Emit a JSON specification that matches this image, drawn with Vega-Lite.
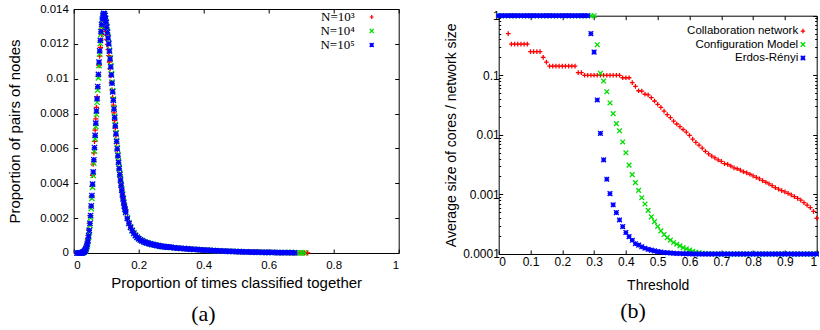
{
 "$schema": "https://vega.github.io/schema/vega-lite/v6.json",
 "padding": {"left": 6.7, "top": 2, "right": -3, "bottom": 0},
 "spacing": 44,
 "resolve": {"scale": {"color": "independent", "shape": "independent"}, "legend": {"color": "independent", "shape": "independent"}},
 "config": {
  "view": {"stroke": "#000", "strokeWidth": 1},
  "axis": {"labelFont": "Liberation Sans", "titleFont": "Liberation Sans", "titleFontWeight": "normal", "labelColor": "#000", "titleColor": "#000", "tickColor": "#000", "domainColor": "#000", "domainWidth": 1, "domain": false, "grid": false, "tickSize": -4, "tickWidth": 1}
 },
 "datasets": {
  "a": [
   {"x":0.010,"N=10³":0,"N=10⁴":0,"N=10⁵":0},
   {"x":0.014,"N=10³":0,"N=10⁴":0,"N=10⁵":0},
   {"x":0.018,"N=10³":0.01e-3,"N=10⁴":0,"N=10⁵":0},
   {"x":0.020,"N=10³":0.02e-3,"N=10⁴":0,"N=10⁵":0},
   {"x":0.022,"N=10³":0.03e-3,"N=10⁴":0,"N=10⁵":0},
   {"x":0.024,"N=10³":0.04e-3,"N=10⁴":0.01e-3,"N=10⁵":0.01e-3},
   {"x":0.026,"N=10³":0.06e-3,"N=10⁴":0.01e-3,"N=10⁵":0.02e-3},
   {"x":0.028,"N=10³":0.08e-3,"N=10⁴":0.02e-3,"N=10⁵":0.03e-3},
   {"x":0.030,"N=10³":0.11e-3,"N=10⁴":0.04e-3,"N=10⁵":0.05e-3},
   {"x":0.032,"N=10³":0.15e-3,"N=10⁴":0.06e-3,"N=10⁵":0.08e-3},
   {"x":0.034,"N=10³":0.21e-3,"N=10⁴":0.10e-3,"N=10⁵":0.12e-3},
   {"x":0.036,"N=10³":0.29e-3,"N=10⁴":0.15e-3,"N=10⁵":0.18e-3},
   {"x":0.038,"N=10³":0.40e-3,"N=10⁴":0.22e-3,"N=10⁵":0.26e-3},
   {"x":0.040,"N=10³":0.55e-3,"N=10⁴":0.32e-3,"N=10⁵":0.37e-3},
   {"x":0.042,"N=10³":0.75e-3,"N=10⁴":0.46e-3,"N=10⁵":0.52e-3},
   {"x":0.044,"N=10³":1.00e-3,"N=10⁴":0.65e-3,"N=10⁵":0.72e-3},
   {"x":0.046,"N=10³":1.32e-3,"N=10⁴":0.90e-3,"N=10⁵":0.98e-3},
   {"x":0.048,"N=10³":1.70e-3,"N=10⁴":1.20e-3,"N=10⁵":1.30e-3},
   {"x":0.050,"N=10³":2.15e-3,"N=10⁴":1.58e-3,"N=10⁵":1.70e-3},
   {"x":0.052,"N=10³":2.65e-3,"N=10⁴":2.02e-3,"N=10⁵":2.15e-3},
   {"x":0.054,"N=10³":3.22e-3,"N=10⁴":2.55e-3,"N=10⁵":2.70e-3},
   {"x":0.056,"N=10³":3.82e-3,"N=10⁴":3.13e-3,"N=10⁵":3.30e-3},
   {"x":0.058,"N=10³":4.45e-3,"N=10⁴":3.77e-3,"N=10⁵":3.95e-3},
   {"x":0.060,"N=10³":5.10e-3,"N=10⁴":4.45e-3,"N=10⁵":4.65e-3},
   {"x":0.062,"N=10³":5.75e-3,"N=10⁴":5.15e-3,"N=10⁵":5.35e-3},
   {"x":0.064,"N=10³":6.40e-3,"N=10⁴":5.85e-3,"N=10⁵":6.05e-3},
   {"x":0.066,"N=10³":7.05e-3,"N=10⁴":6.55e-3,"N=10⁵":6.75e-3},
   {"x":0.068,"N=10³":7.70e-3,"N=10⁴":7.25e-3,"N=10⁵":7.45e-3},
   {"x":0.070,"N=10³":8.35e-3,"N=10⁴":7.95e-3,"N=10⁵":8.15e-3},
   {"x":0.072,"N=10³":8.95e-3,"N=10⁴":8.65e-3,"N=10⁵":8.85e-3},
   {"x":0.074,"N=10³":9.55e-3,"N=10⁴":9.35e-3,"N=10⁵":9.55e-3},
   {"x":0.076,"N=10³":10.15e-3,"N=10⁴":10.05e-3,"N=10⁵":10.25e-3},
   {"x":0.078,"N=10³":10.75e-3,"N=10⁴":10.75e-3,"N=10⁵":10.95e-3},
   {"x":0.080,"N=10³":11.30e-3,"N=10⁴":11.42e-3,"N=10⁵":11.60e-3},
   {"x":0.082,"N=10³":11.80e-3,"N=10⁴":12.02e-3,"N=10⁵":12.20e-3},
   {"x":0.084,"N=10³":12.22e-3,"N=10⁴":12.55e-3,"N=10⁵":12.70e-3},
   {"x":0.086,"N=10³":12.55e-3,"N=10⁴":12.98e-3,"N=10⁵":13.10e-3},
   {"x":0.088,"N=10³":12.80e-3,"N=10⁴":13.32e-3,"N=10⁵":13.42e-3},
   {"x":0.090,"N=10³":12.95e-3,"N=10⁴":13.57e-3,"N=10⁵":13.63e-3},
   {"x":0.092,"N=10³":13.00e-3,"N=10⁴":13.70e-3,"N=10⁵":13.75e-3},
   {"x":0.094,"N=10³":12.95e-3,"N=10⁴":13.72e-3,"N=10⁵":13.72e-3},
   {"x":0.096,"N=10³":12.85e-3,"N=10⁴":13.64e-3,"N=10⁵":13.62e-3},
   {"x":0.098,"N=10³":12.70e-3,"N=10⁴":13.48e-3,"N=10⁵":13.45e-3},
   {"x":0.100,"N=10³":12.50e-3,"N=10⁴":13.26e-3,"N=10⁵":13.22e-3},
   {"x":0.102,"N=10³":12.25e-3,"N=10⁴":13.00e-3,"N=10⁵":12.95e-3},
   {"x":0.104,"N=10³":11.97e-3,"N=10⁴":12.70e-3,"N=10⁵":12.65e-3},
   {"x":0.106,"N=10³":11.67e-3,"N=10⁴":12.38e-3,"N=10⁵":12.33e-3},
   {"x":0.108,"N=10³":11.33e-3,"N=10⁴":12.05e-3,"N=10⁵":12.00e-3},
   {"x":0.110,"N=10³":10.96e-3,"N=10⁴":11.64e-3,"N=10⁵":11.58e-3},
   {"x":0.112,"N=10³":10.58e-3,"N=10⁴":11.20e-3,"N=10⁵":11.14e-3},
   {"x":0.114,"N=10³":10.18e-3,"N=10⁴":10.75e-3,"N=10⁵":10.68e-3},
   {"x":0.116,"N=10³":9.77e-3,"N=10⁴":10.29e-3,"N=10⁵":10.22e-3},
   {"x":0.118,"N=10³":9.35e-3,"N=10⁴":9.81e-3,"N=10⁵":9.74e-3},
   {"x":0.120,"N=10³":8.92e-3,"N=10⁴":9.32e-3,"N=10⁵":9.25e-3},
   {"x":0.122,"N=10³":8.48e-3,"N=10⁴":8.83e-3,"N=10⁵":8.76e-3},
   {"x":0.124,"N=10³":8.04e-3,"N=10⁴":8.33e-3,"N=10⁵":8.26e-3},
   {"x":0.126,"N=10³":7.60e-3,"N=10⁴":7.84e-3,"N=10⁵":7.77e-3},
   {"x":0.128,"N=10³":7.16e-3,"N=10⁴":7.37e-3,"N=10⁵":7.30e-3},
   {"x":0.130,"N=10³":6.73e-3,"N=10⁴":6.91e-3,"N=10⁵":6.84e-3},
   {"x":0.132,"N=10³":6.31e-3,"N=10⁴":6.47e-3,"N=10⁵":6.40e-3},
   {"x":0.134,"N=10³":5.91e-3,"N=10⁴":6.05e-3,"N=10⁵":5.98e-3},
   {"x":0.136,"N=10³":5.53e-3,"N=10⁴":5.65e-3,"N=10⁵":5.58e-3},
   {"x":0.138,"N=10³":5.17e-3,"N=10⁴":5.27e-3,"N=10⁵":5.20e-3},
   {"x":0.140,"N=10³":4.83e-3,"N=10⁴":4.91e-3,"N=10⁵":4.84e-3},
   {"x":0.142,"N=10³":4.50e-3,"N=10⁴":4.57e-3,"N=10⁵":4.50e-3},
   {"x":0.144,"N=10³":4.19e-3,"N=10⁴":4.25e-3,"N=10⁵":4.18e-3},
   {"x":0.146,"N=10³":3.90e-3,"N=10⁴":3.95e-3,"N=10⁵":3.88e-3},
   {"x":0.148,"N=10³":3.63e-3,"N=10⁴":3.67e-3,"N=10⁵":3.60e-3},
   {"x":0.150,"N=10³":3.38e-3,"N=10⁴":3.40e-3,"N=10⁵":3.34e-3},
   {"x":0.152,"N=10³":3.14e-3,"N=10⁴":3.16e-3,"N=10⁵":3.10e-3},
   {"x":0.154,"N=10³":2.92e-3,"N=10⁴":2.94e-3,"N=10⁵":2.88e-3},
   {"x":0.156,"N=10³":2.72e-3,"N=10⁴":2.73e-3,"N=10⁵":2.68e-3},
   {"x":0.158,"N=10³":2.54e-3,"N=10⁴":2.55e-3,"N=10⁵":2.50e-3},
   {"x":0.160,"N=10³":2.37e-3,"N=10⁴":2.37e-3,"N=10⁵":2.33e-3},
   {"x":0.165,"N=10³":2.01e-3,"N=10⁴":2.01e-3,"N=10⁵":1.98e-3},
   {"x":0.170,"N=10³":1.73e-3,"N=10⁴":1.73e-3,"N=10⁵":1.70e-3},
   {"x":0.175,"N=10³":1.50e-3,"N=10⁴":1.50e-3,"N=10⁵":1.47e-3},
   {"x":0.180,"N=10³":1.31e-3,"N=10⁴":1.30e-3,"N=10⁵":1.28e-3},
   {"x":0.185,"N=10³":1.15e-3,"N=10⁴":1.15e-3,"N=10⁵":1.13e-3},
   {"x":0.190,"N=10³":1.02e-3,"N=10⁴":1.02e-3,"N=10⁵":1.00e-3},
   {"x":0.195,"N=10³":0.92e-3,"N=10⁴":0.91e-3,"N=10⁵":0.90e-3},
   {"x":0.200,"N=10³":0.84e-3,"N=10⁴":0.83e-3,"N=10⁵":0.82e-3},
   {"x":0.205,"N=10³":0.77e-3,"N=10⁴":0.76e-3,"N=10⁵":0.75e-3},
   {"x":0.210,"N=10³":0.71e-3,"N=10⁴":0.71e-3,"N=10⁵":0.70e-3},
   {"x":0.215,"N=10³":0.66e-3,"N=10⁴":0.66e-3,"N=10⁵":0.65e-3},
   {"x":0.220,"N=10³":0.62e-3,"N=10⁴":0.62e-3,"N=10⁵":0.61e-3},
   {"x":0.225,"N=10³":0.58e-3,"N=10⁴":0.58e-3,"N=10⁵":0.58e-3},
   {"x":0.230,"N=10³":0.55e-3,"N=10⁴":0.55e-3,"N=10⁵":0.55e-3},
   {"x":0.235,"N=10³":0.53e-3,"N=10⁴":0.52e-3,"N=10⁵":0.52e-3},
   {"x":0.240,"N=10³":0.50e-3,"N=10⁴":0.50e-3,"N=10⁵":0.50e-3},
   {"x":0.245,"N=10³":0.48e-3,"N=10⁴":0.48e-3,"N=10⁵":0.48e-3},
   {"x":0.250,"N=10³":0.46e-3,"N=10⁴":0.46e-3,"N=10⁵":0.46e-3},
   {"x":0.255,"N=10³":0.44e-3,"N=10⁴":0.44e-3,"N=10⁵":0.44e-3},
   {"x":0.260,"N=10³":0.42e-3,"N=10⁴":0.42e-3,"N=10⁵":0.42e-3},
   {"x":0.265,"N=10³":0.40e-3,"N=10⁴":0.40e-3,"N=10⁵":0.40e-3},
   {"x":0.270,"N=10³":0.39e-3,"N=10⁴":0.385e-3,"N=10⁵":0.385e-3},
   {"x":0.275,"N=10³":0.37e-3,"N=10⁴":0.37e-3,"N=10⁵":0.37e-3},
   {"x":0.280,"N=10³":0.36e-3,"N=10⁴":0.36e-3,"N=10⁵":0.36e-3},
   {"x":0.285,"N=10³":0.35e-3,"N=10⁴":0.35e-3,"N=10⁵":0.35e-3},
   {"x":0.290,"N=10³":0.34e-3,"N=10⁴":0.34e-3,"N=10⁵":0.34e-3},
   {"x":0.295,"N=10³":0.33e-3,"N=10⁴":0.33e-3,"N=10⁵":0.33e-3},
   {"x":0.300,"N=10³":0.32e-3,"N=10⁴":0.32e-3,"N=10⁵":0.32e-3},
   {"x":0.31,"N=10³":0.30e-3,"N=10⁴":0.30e-3,"N=10⁵":0.30e-3},
   {"x":0.32,"N=10³":0.285e-3,"N=10⁴":0.285e-3,"N=10⁵":0.285e-3},
   {"x":0.33,"N=10³":0.27e-3,"N=10⁴":0.27e-3,"N=10⁵":0.27e-3},
   {"x":0.34,"N=10³":0.255e-3,"N=10⁴":0.255e-3,"N=10⁵":0.255e-3},
   {"x":0.35,"N=10³":0.24e-3,"N=10⁴":0.24e-3,"N=10⁵":0.24e-3},
   {"x":0.36,"N=10³":0.225e-3,"N=10⁴":0.225e-3,"N=10⁵":0.225e-3},
   {"x":0.37,"N=10³":0.21e-3,"N=10⁴":0.21e-3,"N=10⁵":0.21e-3},
   {"x":0.38,"N=10³":0.20e-3,"N=10⁴":0.20e-3,"N=10⁵":0.20e-3},
   {"x":0.39,"N=10³":0.185e-3,"N=10⁴":0.185e-3,"N=10⁵":0.185e-3},
   {"x":0.40,"N=10³":0.17e-3,"N=10⁴":0.17e-3,"N=10⁵":0.17e-3},
   {"x":0.41,"N=10³":0.16e-3,"N=10⁴":0.16e-3,"N=10⁵":0.16e-3},
   {"x":0.42,"N=10³":0.15e-3,"N=10⁴":0.15e-3,"N=10⁵":0.15e-3},
   {"x":0.43,"N=10³":0.14e-3,"N=10⁴":0.14e-3,"N=10⁵":0.14e-3},
   {"x":0.44,"N=10³":0.13e-3,"N=10⁴":0.13e-3,"N=10⁵":0.13e-3},
   {"x":0.45,"N=10³":0.12e-3,"N=10⁴":0.12e-3,"N=10⁵":0.12e-3},
   {"x":0.46,"N=10³":0.11e-3,"N=10⁴":0.11e-3,"N=10⁵":0.11e-3},
   {"x":0.47,"N=10³":0.10e-3,"N=10⁴":0.10e-3,"N=10⁵":0.10e-3},
   {"x":0.48,"N=10³":0.095e-3,"N=10⁴":0.095e-3,"N=10⁵":0.095e-3},
   {"x":0.49,"N=10³":0.088e-3,"N=10⁴":0.088e-3,"N=10⁵":0.088e-3},
   {"x":0.50,"N=10³":0.080e-3,"N=10⁴":0.080e-3,"N=10⁵":0.080e-3},
   {"x":0.51,"N=10³":0.074e-3,"N=10⁴":0.074e-3,"N=10⁵":0.074e-3},
   {"x":0.52,"N=10³":0.068e-3,"N=10⁴":0.068e-3,"N=10⁵":0.068e-3},
   {"x":0.53,"N=10³":0.063e-3,"N=10⁴":0.063e-3,"N=10⁵":0.063e-3},
   {"x":0.54,"N=10³":0.058e-3,"N=10⁴":0.058e-3,"N=10⁵":0.058e-3},
   {"x":0.55,"N=10³":0.053e-3,"N=10⁴":0.053e-3,"N=10⁵":0.053e-3},
   {"x":0.56,"N=10³":0.049e-3,"N=10⁴":0.049e-3,"N=10⁵":0.049e-3},
   {"x":0.57,"N=10³":0.045e-3,"N=10⁴":0.045e-3,"N=10⁵":0.045e-3},
   {"x":0.58,"N=10³":0.041e-3,"N=10⁴":0.041e-3,"N=10⁵":0.041e-3},
   {"x":0.59,"N=10³":0.037e-3,"N=10⁴":0.037e-3,"N=10⁵":0.037e-3},
   {"x":0.60,"N=10³":0.034e-3,"N=10⁴":0.034e-3,"N=10⁵":0.034e-3},
   {"x":0.61,"N=10³":0.031e-3,"N=10⁴":0.031e-3,"N=10⁵":0.031e-3},
   {"x":0.62,"N=10³":0.028e-3,"N=10⁴":0.028e-3,"N=10⁵":0.028e-3},
   {"x":0.63,"N=10³":0.025e-3,"N=10⁴":0.025e-3,"N=10⁵":0.025e-3},
   {"x":0.64,"N=10³":0.022e-3,"N=10⁴":0.022e-3,"N=10⁵":0.022e-3},
   {"x":0.65,"N=10³":0.020e-3,"N=10⁴":0.020e-3,"N=10⁵":0.020e-3},
   {"x":0.66,"N=10³":0.018e-3,"N=10⁴":0.018e-3,"N=10⁵":0.018e-3},
   {"x":0.67,"N=10³":0.016e-3,"N=10⁴":0.016e-3,"N=10⁵":0.016e-3},
   {"x":0.68,"N=10³":0.014e-3,"N=10⁴":0.014e-3,"N=10⁵":0.014e-3},
   {"x":0.69,"N=10³":0.012e-3,"N=10⁴":0.012e-3},
   {"x":0.70,"N=10³":0.010e-3,"N=10⁴":0.010e-3},
   {"x":0.71,"N=10³":0.008e-3,"N=10⁴":0.008e-3},
   {"x":0.72,"N=10³":0.006e-3}
  ],
  "b": [
   {"x":0.00,"Configuration Model":1,"Erdos-Rényi":1},
   {"x":0.01,"Configuration Model":1,"Erdos-Rényi":1},
   {"x":0.02,"Configuration Model":1,"Erdos-Rényi":1},
   {"x":0.03,"Collaboration network":0.5,"Configuration Model":1,"Erdos-Rényi":1},
   {"x":0.04,"Collaboration network":0.3333,"Configuration Model":1,"Erdos-Rényi":1},
   {"x":0.05,"Collaboration network":0.3333,"Configuration Model":1,"Erdos-Rényi":1},
   {"x":0.06,"Collaboration network":0.3333,"Configuration Model":1,"Erdos-Rényi":1},
   {"x":0.07,"Collaboration network":0.3333,"Configuration Model":1,"Erdos-Rényi":1},
   {"x":0.08,"Collaboration network":0.3333,"Configuration Model":1,"Erdos-Rényi":1},
   {"x":0.09,"Collaboration network":0.3333,"Configuration Model":1,"Erdos-Rényi":1},
   {"x":0.10,"Collaboration network":0.25,"Configuration Model":1,"Erdos-Rényi":1},
   {"x":0.11,"Collaboration network":0.25,"Configuration Model":1,"Erdos-Rényi":1},
   {"x":0.12,"Collaboration network":0.25,"Configuration Model":1,"Erdos-Rényi":1},
   {"x":0.13,"Collaboration network":0.25,"Configuration Model":1,"Erdos-Rényi":1},
   {"x":0.14,"Collaboration network":0.2,"Configuration Model":1,"Erdos-Rényi":1},
   {"x":0.15,"Collaboration network":0.1667,"Configuration Model":1,"Erdos-Rényi":1},
   {"x":0.16,"Collaboration network":0.1429,"Configuration Model":1,"Erdos-Rényi":1},
   {"x":0.17,"Collaboration network":0.1429,"Configuration Model":1,"Erdos-Rényi":1},
   {"x":0.18,"Collaboration network":0.1429,"Configuration Model":1,"Erdos-Rényi":1},
   {"x":0.19,"Collaboration network":0.1429,"Configuration Model":1,"Erdos-Rényi":1},
   {"x":0.20,"Collaboration network":0.1429,"Configuration Model":1,"Erdos-Rényi":1},
   {"x":0.21,"Collaboration network":0.1429,"Configuration Model":1,"Erdos-Rényi":1},
   {"x":0.22,"Collaboration network":0.1429,"Configuration Model":1,"Erdos-Rényi":1},
   {"x":0.23,"Collaboration network":0.1429,"Configuration Model":1,"Erdos-Rényi":1},
   {"x":0.24,"Collaboration network":0.1429,"Configuration Model":1,"Erdos-Rényi":1},
   {"x":0.25,"Collaboration network":0.1111,"Configuration Model":1,"Erdos-Rényi":1},
   {"x":0.26,"Collaboration network":0.1111,"Configuration Model":1,"Erdos-Rényi":1},
   {"x":0.27,"Collaboration network":0.1,"Configuration Model":1,"Erdos-Rényi":1},
   {"x":0.28,"Collaboration network":0.1,"Configuration Model":1,"Erdos-Rényi":1},
   {"x":0.29,"Collaboration network":0.1,"Configuration Model":1,"Erdos-Rényi":0.5},
   {"x":0.30,"Collaboration network":0.1,"Configuration Model":1,"Erdos-Rényi":0.245},
   {"x":0.31,"Collaboration network":0.1,"Configuration Model":0.326,"Erdos-Rényi":0.0385},
   {"x":0.32,"Collaboration network":0.1,"Configuration Model":0.108,"Erdos-Rényi":0.0106},
   {"x":0.33,"Collaboration network":0.1,"Configuration Model":0.080,"Erdos-Rényi":0.0038},
   {"x":0.34,"Collaboration network":0.1,"Configuration Model":0.053,"Erdos-Rényi":0.0018},
   {"x":0.35,"Collaboration network":0.1,"Configuration Model":0.0343,"Erdos-Rényi":0.00103},
   {"x":0.36,"Collaboration network":0.1,"Configuration Model":0.0227,"Erdos-Rényi":0.00067},
   {"x":0.37,"Collaboration network":0.1,"Configuration Model":0.0154,"Erdos-Rényi":0.000495},
   {"x":0.38,"Collaboration network":0.1,"Configuration Model":0.0117,"Erdos-Rényi":0.000373},
   {"x":0.39,"Collaboration network":0.0909,"Configuration Model":0.0076,"Erdos-Rényi":0.000288},
   {"x":0.40,"Collaboration network":0.0909,"Configuration Model":0.0050,"Erdos-Rényi":0.000229},
   {"x":0.41,"Collaboration network":0.0909,"Configuration Model":0.0031,"Erdos-Rényi":0.000196},
   {"x":0.42,"Collaboration network":0.075,"Configuration Model":0.00215,"Erdos-Rényi":0.00017},
   {"x":0.43,"Collaboration network":0.065,"Configuration Model":0.00158,"Erdos-Rényi":0.000149},
   {"x":0.44,"Collaboration network":0.055,"Configuration Model":0.00117,"Erdos-Rényi":0.000141},
   {"x":0.45,"Collaboration network":0.054,"Configuration Model":0.00088,"Erdos-Rényi":0.000132},
   {"x":0.46,"Collaboration network":0.048,"Configuration Model":0.00069,"Erdos-Rényi":0.000125},
   {"x":0.47,"Collaboration network":0.047,"Configuration Model":0.00054,"Erdos-Rényi":0.00012},
   {"x":0.48,"Collaboration network":0.042,"Configuration Model":0.00042,"Erdos-Rényi":0.000116},
   {"x":0.49,"Collaboration network":0.037,"Configuration Model":0.00035,"Erdos-Rényi":0.000113},
   {"x":0.50,"Collaboration network":0.0326,"Configuration Model":0.00029,"Erdos-Rényi":0.00011},
   {"x":0.51,"Collaboration network":0.029,"Configuration Model":0.000244,"Erdos-Rényi":0.000108},
   {"x":0.52,"Collaboration network":0.025,"Configuration Model":0.000212,"Erdos-Rényi":0.000106},
   {"x":0.53,"Collaboration network":0.0218,"Configuration Model":0.000188,"Erdos-Rényi":0.000105},
   {"x":0.54,"Collaboration network":0.0195,"Configuration Model":0.000171,"Erdos-Rényi":0.000104},
   {"x":0.55,"Collaboration network":0.017,"Configuration Model":0.000156,"Erdos-Rényi":0.000103},
   {"x":0.56,"Collaboration network":0.0152,"Configuration Model":0.000146,"Erdos-Rényi":0.000102},
   {"x":0.57,"Collaboration network":0.0137,"Configuration Model":0.000137,"Erdos-Rényi":0.000102},
   {"x":0.58,"Collaboration network":0.0123,"Configuration Model":0.000128,"Erdos-Rényi":0.000101},
   {"x":0.59,"Collaboration network":0.0111,"Configuration Model":0.000122,"Erdos-Rényi":0.000101},
   {"x":0.60,"Collaboration network":0.0098,"Configuration Model":0.000116,"Erdos-Rényi":0.000101},
   {"x":0.61,"Collaboration network":0.0085,"Configuration Model":0.000111,"Erdos-Rényi":0.0001},
   {"x":0.62,"Collaboration network":0.0075,"Configuration Model":0.000107,"Erdos-Rényi":0.0001},
   {"x":0.63,"Collaboration network":0.0067,"Configuration Model":0.000105,"Erdos-Rényi":0.0001},
   {"x":0.64,"Collaboration network":0.0060,"Configuration Model":0.000103,"Erdos-Rényi":0.0001},
   {"x":0.65,"Collaboration network":0.0053,"Configuration Model":0.000102,"Erdos-Rényi":0.0001},
   {"x":0.66,"Collaboration network":0.0048,"Configuration Model":0.000101,"Erdos-Rényi":0.0001},
   {"x":0.67,"Collaboration network":0.0044,"Configuration Model":0.000101,"Erdos-Rényi":0.0001},
   {"x":0.68,"Collaboration network":0.0041,"Configuration Model":0.0001,"Erdos-Rényi":0.0001},
   {"x":0.69,"Collaboration network":0.0038,"Configuration Model":0.0001,"Erdos-Rényi":0.0001},
   {"x":0.70,"Collaboration network":0.0036,"Configuration Model":0.0001,"Erdos-Rényi":0.0001},
   {"x":0.71,"Collaboration network":0.0033,"Configuration Model":0.0001,"Erdos-Rényi":0.0001},
   {"x":0.72,"Collaboration network":0.0032,"Configuration Model":0.0001,"Erdos-Rényi":0.0001},
   {"x":0.73,"Collaboration network":0.0030,"Configuration Model":0.0001,"Erdos-Rényi":0.0001},
   {"x":0.74,"Collaboration network":0.0028,"Configuration Model":0.0001,"Erdos-Rényi":0.0001},
   {"x":0.75,"Collaboration network":0.0027,"Configuration Model":0.0001,"Erdos-Rényi":0.0001},
   {"x":0.76,"Collaboration network":0.00255,"Configuration Model":0.0001,"Erdos-Rényi":0.0001},
   {"x":0.77,"Collaboration network":0.0024,"Configuration Model":0.0001,"Erdos-Rényi":0.0001},
   {"x":0.78,"Collaboration network":0.0023,"Configuration Model":0.0001,"Erdos-Rényi":0.0001},
   {"x":0.79,"Collaboration network":0.00218,"Configuration Model":0.0001,"Erdos-Rényi":0.0001},
   {"x":0.80,"Collaboration network":0.00205,"Configuration Model":0.0001,"Erdos-Rényi":0.0001},
   {"x":0.81,"Collaboration network":0.00193,"Configuration Model":0.0001,"Erdos-Rényi":0.0001},
   {"x":0.82,"Collaboration network":0.00182,"Configuration Model":0.0001,"Erdos-Rényi":0.0001},
   {"x":0.83,"Collaboration network":0.00171,"Configuration Model":0.0001,"Erdos-Rényi":0.0001},
   {"x":0.84,"Collaboration network":0.0016,"Configuration Model":0.0001,"Erdos-Rényi":0.0001},
   {"x":0.85,"Collaboration network":0.0015,"Configuration Model":0.0001,"Erdos-Rényi":0.0001},
   {"x":0.86,"Collaboration network":0.0014,"Configuration Model":0.0001,"Erdos-Rényi":0.0001},
   {"x":0.87,"Collaboration network":0.0013,"Configuration Model":0.0001,"Erdos-Rényi":0.0001},
   {"x":0.88,"Collaboration network":0.00123,"Configuration Model":0.0001,"Erdos-Rényi":0.0001},
   {"x":0.89,"Collaboration network":0.00116,"Configuration Model":0.0001,"Erdos-Rényi":0.0001},
   {"x":0.90,"Collaboration network":0.0011,"Configuration Model":0.0001,"Erdos-Rényi":0.0001},
   {"x":0.91,"Collaboration network":0.00104,"Configuration Model":0.0001,"Erdos-Rényi":0.0001},
   {"x":0.92,"Collaboration network":0.00098,"Configuration Model":0.0001,"Erdos-Rényi":0.0001},
   {"x":0.93,"Collaboration network":0.00092,"Configuration Model":0.0001,"Erdos-Rényi":0.0001},
   {"x":0.94,"Collaboration network":0.00086,"Configuration Model":0.0001,"Erdos-Rényi":0.0001},
   {"x":0.95,"Collaboration network":0.0008,"Configuration Model":0.0001,"Erdos-Rényi":0.0001},
   {"x":0.96,"Collaboration network":0.00073,"Configuration Model":0.0001,"Erdos-Rényi":0.0001},
   {"x":0.97,"Collaboration network":0.00066,"Configuration Model":0.0001,"Erdos-Rényi":0.0001},
   {"x":0.98,"Collaboration network":0.0006,"Configuration Model":0.0001,"Erdos-Rényi":0.0001},
   {"x":0.99,"Collaboration network":0.00052,"Configuration Model":0.0001,"Erdos-Rényi":0.0001},
   {"x":1.00,"Collaboration network":0.0004,"Configuration Model":0.0001,"Erdos-Rényi":0.0001}
  ]
 },
 "hconcat": [
  {
   "width": 325,
   "height": 244,
   "data": {"name": "a"},
   "transform": [
    {"fold": ["N=10³", "N=10⁴", "N=10⁵"], "as": ["series", "value"]},
    {"filter": "isValid(datum.value)"}
   ],
   "title": {"text": "(a)", "orient": "bottom", "frame": "bounds", "anchor": "middle", "font": "Liberation Serif", "fontSize": 22, "fontWeight": "normal", "color": "#000", "offset": 14},
   "layer": [
    {
     "mark": {"type": "point", "filled": false, "strokeWidth": 1.3, "opacity": 1},
     "encoding": {
      "x": {"field": "x", "type": "quantitative", "scale": {"domain": [0, 1], "nice": false},
            "axis": {"values": [0, 0.2, 0.4, 0.6, 0.8, 1], "format": "~g", "title": "Proportion of times classified together", "labelFontSize": 11.5, "titleFontSize": 15, "labelPadding": 11, "titlePadding": 4}},
      "y": {"field": "value", "type": "quantitative", "scale": {"domain": [0, 0.014], "nice": false, "zero": false},
            "axis": {"values": [0, 0.002, 0.004, 0.006, 0.008, 0.01, 0.012, 0.014], "format": "~g", "title": "Proportion of pairs of nodes", "labelFontSize": 11.5, "titleFontSize": 15, "labelPadding": 9.3, "titlePadding": 17}},
      "color": {"field": "series", "type": "nominal",
                "scale": {"domain": ["N=10³", "N=10⁴", "N=10⁵"], "range": ["#ff0000", "#00dd00", "#0000ff"]},
                "legend": {"title": null, "orient": "none", "legendX": 291.5, "legendY": 1.5, "labelFont": "Liberation Serif", "labelFontSize": 13, "labelColor": "#000", "labelAlign": "right", "labelOffset": -23.5, "rowPadding": 0, "padding": 0, "symbolSize": 16, "symbolStrokeWidth": 1.2}},
      "shape": {"field": "series", "type": "nominal",
                "scale": {"domain": ["N=10³", "N=10⁴", "N=10⁵"], "range": ["M-1,0L1,0M0,-1L0,1", "M-1,-1L1,1M-1,1L1,-1", "M-1,0L1,0M0,-1L0,1M-1,-1L1,1M-1,1L1,-1"]},
                "legend": {"title": null, "orient": "none", "legendX": 291.5, "legendY": 1.5, "labelFont": "Liberation Serif", "labelFontSize": 13, "labelColor": "#000", "labelAlign": "right", "labelOffset": -23.5, "rowPadding": 0, "padding": 0, "symbolSize": 16, "symbolStrokeWidth": 1.2}},
      "size": {"value": 28},
      "order": {"field": "series", "type": "ordinal"}
     }
    },
    {
     "mark": {"type": "point", "opacity": 0},
     "encoding": {
      "x": {"field": "x", "type": "quantitative", "axis": {"orient": "top", "labels": false, "values": [0, 0.2, 0.4, 0.6, 0.8, 1], "title": null}},
      "y": {"field": "value", "type": "quantitative", "axis": {"orient": "right", "labels": false, "values": [0, 0.002, 0.004, 0.006, 0.008, 0.01, 0.012, 0.014], "title": null}}
     }
    }
   ],
   "resolve": {"axis": {"x": "independent", "y": "independent"}}
  },
  {
   "width": 318,
   "height": 245,
   "view": {"stroke": null},
   "data": {"name": "b"},
   "transform": [
    {"fold": ["Collaboration network", "Configuration Model", "Erdos-Rényi"], "as": ["series", "value"]},
    {"filter": "isValid(datum.value)"}
   ],
   "title": {"text": "(b)", "orient": "bottom", "frame": "bounds", "anchor": "middle", "font": "Liberation Serif", "fontSize": 22, "fontWeight": "normal", "color": "#000", "offset": 8},
   "layer": [
    {
     "mark": {"type": "point", "filled": false, "strokeWidth": 1.3, "opacity": 1},
     "encoding": {
      "x": {"field": "x", "type": "quantitative", "scale": {"domain": [0, 1], "nice": false},
            "axis": {"values": [0, 0.1, 0.2, 0.3, 0.4, 0.5, 0.6, 0.7, 0.8, 0.9, 1], "format": "~g", "title": "Threshold", "labelFontSize": 12, "titleFontSize": 14, "labelPadding": 6.7, "titlePadding": 11.3, "domain": true}},
      "y": {"field": "value", "type": "quantitative", "scale": {"type": "log", "domain": [0.0001, 1], "nice": false, "range": [245, 6.7]},
            "axis": {"values": [0.0001, 0.001, 0.01, 0.1, 1], "format": "~g", "title": "Average size of cores / network size", "labelFontSize": 12, "titleFontSize": 14, "labelPadding": 3.4, "titlePadding": 4, "labelOverlap": false, "domain": true}},
      "color": {"field": "series", "type": "nominal",
                "scale": {"domain": ["Collaboration network", "Configuration Model", "Erdos-Rényi"], "range": ["#ff0000", "#00dd00", "#0000ff"]},
                "legend": {"title": null, "orient": "none", "legendX": 298.5, "legendY": 16.3, "labelFont": "Liberation Sans", "labelFontSize": 11.5, "labelColor": "#000", "labelAlign": "right", "labelOffset": -10.5, "rowPadding": 0.5, "padding": 0, "symbolSize": 20, "symbolStrokeWidth": 1.3}},
      "shape": {"field": "series", "type": "nominal",
                "scale": {"domain": ["Collaboration network", "Configuration Model", "Erdos-Rényi"], "range": ["M-1,0L1,0M0,-1L0,1", "M-1,-1L1,1M-1,1L1,-1", "M-1,0L1,0M0,-1L0,1M-1,-1L1,1M-1,1L1,-1"]},
                "legend": {"title": null, "orient": "none", "legendX": 298.5, "legendY": 16.3, "labelFont": "Liberation Sans", "labelFontSize": 11.5, "labelColor": "#000", "labelAlign": "right", "labelOffset": -10.5, "rowPadding": 0.5, "padding": 0, "symbolSize": 20, "symbolStrokeWidth": 1.3}},
      "size": {"value": 22},
      "order": {"field": "series", "type": "ordinal"}
     }
    },
    {
     "mark": {"type": "point", "opacity": 0},
     "encoding": {
      "x": {"field": "x", "type": "quantitative", "axis": {"orient": "top", "labels": false, "values": [0, 0.1, 0.2, 0.3, 0.4, 0.5, 0.6, 0.7, 0.8, 0.9, 1], "title": null, "domain": true, "offset": -6.7}},
      "y": {"field": "value", "type": "quantitative", "axis": {"orient": "right", "labels": false, "values": [0.0001, 0.001, 0.01, 0.1, 1], "title": null, "domain": true}}
     }
    },
    {
     "mark": {"type": "point", "opacity": 0},
     "encoding": {
      "x": {"field": "x", "type": "quantitative", "axis": null},
      "y": {"field": "value", "type": "quantitative", "axis": {"orient": "left", "labels": false, "tickSize": -2, "values": [0.0002,0.0003,0.0004,0.0005,0.0006,0.0007,0.0008,0.0009,0.002,0.003,0.004,0.005,0.006,0.007,0.008,0.009,0.02,0.03,0.04,0.05,0.06,0.07,0.08,0.09,0.2,0.3,0.4,0.5,0.6,0.7,0.8,0.9], "title": null}}
     }
    },
    {
     "mark": {"type": "point", "opacity": 0},
     "encoding": {
      "x": {"field": "x", "type": "quantitative", "axis": null},
      "y": {"field": "value", "type": "quantitative", "axis": {"orient": "right", "labels": false, "tickSize": -2, "values": [0.0002,0.0003,0.0004,0.0005,0.0006,0.0007,0.0008,0.0009,0.002,0.003,0.004,0.005,0.006,0.007,0.008,0.009,0.02,0.03,0.04,0.05,0.06,0.07,0.08,0.09,0.2,0.3,0.4,0.5,0.6,0.7,0.8,0.9], "title": null}}
     }
    }
   ],
   "resolve": {"axis": {"x": "independent", "y": "independent"}}
  }
 ]
}
